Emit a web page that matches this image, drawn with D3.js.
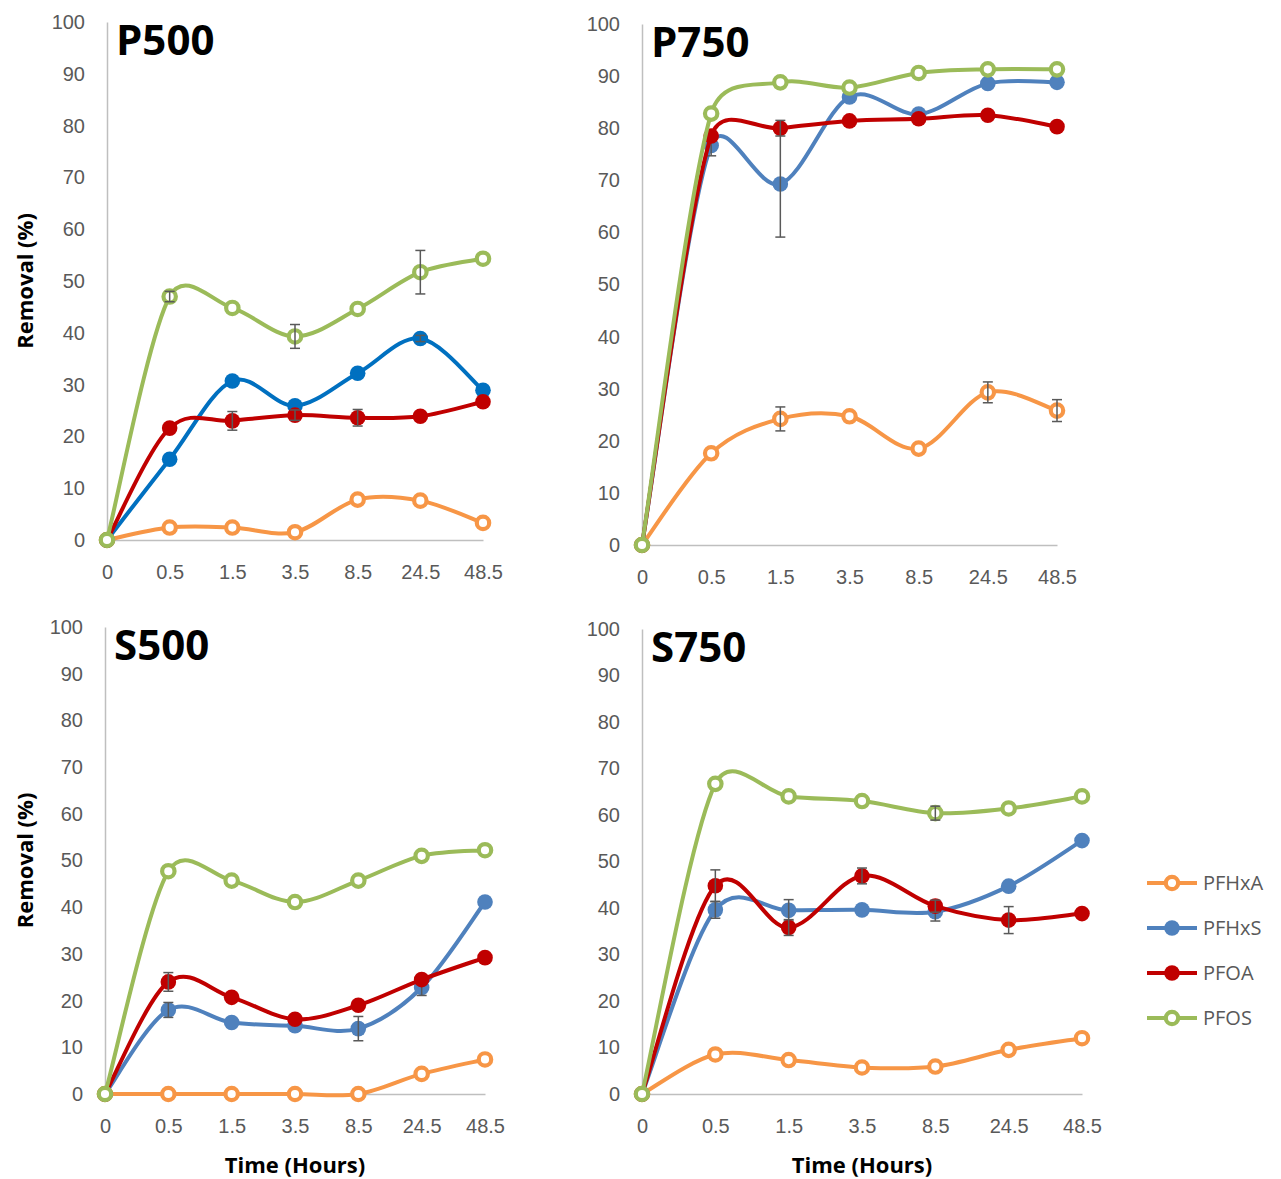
<!DOCTYPE html>
<html>
<head>
<meta charset="utf-8">
<script src="https://cdn.jsdelivr.net/npm/d3@7"></script>
<style>
  body { margin: 0; background: #fff; }
  svg { display: block; font-family: "Open Sans", sans-serif; }
</style>
</head>
<body>
<div id="chart"></div>
<script>
// time points (hours) and compounds
const times = ["0", "0.5", "1.5", "3.5", "8.5", "24.5", "48.5"];
const compounds = ["PFHxA", "PFHxS", "PFOA", "PFOS"];

// removal (%) per panel and compound
const p500PFHxA = [0, 2.4, 2.4, 1.5, 7.8, 7.6, 3.3];
const p500PFHxS = [0, 15.6, 30.7, 25.9, 32.2, 38.9, 28.9];
const p500PFOA  = [0, 21.6, 23.0, 24.1, 23.6, 23.9, 26.7];
const p500PFOS  = [0, 47.0, 44.8, 39.3, 44.6, 51.7, 54.3];

const p750PFHxA = [0, 17.6, 24.2, 24.7, 18.5, 29.3, 25.8];
const p750PFHxS = [0, 76.7, 69.3, 86.0, 82.7, 88.6, 88.8];
const p750PFOA  = [0, 78.5, 80.0, 81.4, 81.8, 82.5, 80.3];
const p750PFOS  = [0, 82.8, 88.8, 87.8, 90.6, 91.3, 91.3];

const s500PFHxA = [0, 0, 0, 0, 0, 4.3, 7.4];
const s500PFHxS = [0, 18.0, 15.3, 14.6, 14.0, 22.8, 41.1];
const s500PFOA  = [0, 24.0, 20.7, 16.0, 19.0, 24.5, 29.2];
const s500PFOS  = [0, 47.7, 45.7, 41.1, 45.7, 51.0, 52.2];

const s750PFHxA = [0, 8.5, 7.3, 5.7, 5.9, 9.5, 12.0];
const s750PFHxS = [0, 39.6, 39.5, 39.6, 39.2, 44.7, 54.5];
const s750PFOA  = [0, 44.8, 35.8, 46.9, 40.4, 37.4, 38.8];
const s750PFOS  = [0, 66.7, 64.0, 63.0, 60.4, 61.4, 64.0];

// standard deviations (error bars)
const p500PFHxAErr = [0, 0, 0, 0, 0, 0, 0];
const p500PFHxSErr = [0, 0, 0, 0, 0, 0.6, 0];
const p500PFOAErr  = [0, 0, 1.8, 1.0, 1.6, 0, 0];
const p500PFOSErr  = [0, 1.0, 0, 2.3, 0, 4.2, 0];

const p750PFHxAErr = [0, 0, 2.3, 0, 0, 2.0, 2.1];
const p750PFHxSErr = [0, 2.0, 10.2, 0, 0, 0, 0];
const p750PFOAErr  = [0, 0, 1.5, 0, 0, 0, 0];
const p750PFOSErr  = [0, 0, 0, 0, 0, 0, 0];

const s500PFHxAErr = [0, 0, 0, 0, 0, 0, 0];
const s500PFHxSErr = [0, 1.6, 0, 0, 2.6, 1.7, 0];
const s500PFOAErr  = [0, 2.0, 0, 0, 0, 0, 0];
const s500PFOSErr  = [0, 0, 0, 0, 0, 0, 0];

const s750PFHxAErr = [0, 0, 0, 0, 0, 0, 0];
const s750PFHxSErr = [0, 1.8, 2.3, 0, 2.0, 0, 0];
const s750PFOAErr  = [0, 3.4, 1.7, 1.7, 1.3, 2.9, 0];
const s750PFOSErr  = [0, 0, 0, 0, 1.5, 0, 0];

const yTicks = [0, 10, 20, 30, 40, 50, 60, 70, 80, 90, 100];

const colors = { PFHxA: "#F79646", PFHxS: "#4F81BD", PFOA: "#C00000", PFOS: "#9BBB59" };
const hollow = { PFHxA: true, PFHxS: false, PFOA: false, PFOS: true };

const panels = [
  { title: "P500", left: 107, right: 483, top: 22, bottom: 540, blue: "#0070C0", yTitle: true, xTitle: false,
    values: [p500PFHxA, p500PFHxS, p500PFOA, p500PFOS], errs: [p500PFHxAErr, p500PFHxSErr, p500PFOAErr, p500PFOSErr] },
  { title: "P750", left: 642, right: 1057, top: 24, bottom: 545, blue: colors.PFHxS, yTitle: false, xTitle: false,
    values: [p750PFHxA, p750PFHxS, p750PFOA, p750PFOS], errs: [p750PFHxAErr, p750PFHxSErr, p750PFOAErr, p750PFOSErr] },
  { title: "S500", left: 105, right: 485, top: 627, bottom: 1094, blue: colors.PFHxS, yTitle: true, xTitle: true,
    values: [s500PFHxA, s500PFHxS, s500PFOA, s500PFOS], errs: [s500PFHxAErr, s500PFHxSErr, s500PFOAErr, s500PFOSErr] },
  { title: "S750", left: 642, right: 1082, top: 629, bottom: 1094, blue: colors.PFHxS, yTitle: false, xTitle: true,
    values: [s750PFHxA, s750PFHxS, s750PFOA, s750PFOS], errs: [s750PFHxAErr, s750PFHxSErr, s750PFOAErr, s750PFOSErr] }
];

// spreadsheet-style smoothing: bezier segments whose control arms are
// limited to half the segment length, so the curve overshoots less
function curveSmooth(context) {
  let pts;
  const dist = (a, b) => Math.hypot(b[0] - a[0], b[1] - a[1]);
  return {
    areaStart() {}, areaEnd() {},
    lineStart() { pts = []; },
    point(x, y) { pts.push([+x, +y]); },
    lineEnd() {
      const n = pts.length;
      if (!n) return;
      context.moveTo(pts[0][0], pts[0][1]);
      for (let i = 0; i < n - 1; i++) {
        const p1 = pts[i], p2 = pts[i + 1];
        const p0 = i > 0 ? pts[i - 1] : p1;
        const p3 = i + 2 < n ? pts[i + 2] : p2;
        const d02 = dist(p0, p2), d12 = dist(p1, p2), d13 = dist(p1, p3);
        let f0 = 1 / 6, f1 = 1 / 6;
        if (d02 / 6 >= d12 / 2 && d02 > 0) f0 = d12 / d02 / 2;
        if (d13 / 6 >= d12 / 2 && d13 > 0) f1 = d12 / d13 / 2;
        context.bezierCurveTo(
          p1[0] + (p2[0] - p0[0]) * f0, p1[1] + (p2[1] - p0[1]) * f0,
          p2[0] - (p3[0] - p1[0]) * f1, p2[1] - (p3[1] - p1[1]) * f1,
          p2[0], p2[1]);
      }
    }
  };
}

const svg = d3.select("#chart").append("svg")
  .attr("width", 1281)
  .attr("height", 1179);

const axisGray = "#BFBFBF";
const textGray = "#595959";

function marker(sel, c, col) {
  sel.attr("r", hollow[c] ? 6.2 : 7.8)
    .attr("fill", hollow[c] ? "#fff" : col)
    .attr("stroke", hollow[c] ? col : "none")
    .attr("stroke-width", 4.2);
}

panels.forEach(p => {
  const x = d3.scalePoint().domain(times).range([p.left, p.right]);
  const y = d3.scaleLinear().domain([0, 100]).range([p.bottom, p.top]);
  const g = svg.append("g");

  // axes
  const yAxis = g.append("g").attr("transform", "translate(" + p.left + ",0)")
    .call(d3.axisLeft(y).tickValues(yTicks).tickSize(0).tickPadding(22));
  yAxis.select(".domain").attr("stroke", axisGray).attr("stroke-width", 1.5);
  yAxis.selectAll("text").attr("fill", textGray).style("font-size", "20px");

  const xAxis = g.append("g").attr("transform", "translate(0," + p.bottom + ")")
    .call(d3.axisBottom(x).tickSize(0).tickPadding(25));
  xAxis.select(".domain").attr("stroke", axisGray).attr("stroke-width", 1.5);
  xAxis.selectAll("text").attr("fill", textGray).style("font-size", "20px");

  // panel title
  g.append("text")
    .attr("x", p.left + 9)
    .attr("y", p.top + 33)
    .attr("font-size", 42)
    .attr("font-weight", "bold")
    .attr("fill", "#000")
    .text(p.title);

  if (p.yTitle) {
    g.append("text")
      .attr("transform", "translate(33," + (p.top + p.bottom) / 2 + ") rotate(-90)")
      .attr("text-anchor", "middle")
      .attr("font-size", 22)
      .attr("font-weight", "bold")
      .attr("fill", "#000")
      .text("Removal (%)");
  }
  if (p.xTitle) {
    g.append("text")
      .attr("x", (p.left + p.right) / 2)
      .attr("y", 1173)
      .attr("text-anchor", "middle")
      .attr("font-size", 22)
      .attr("font-weight", "bold")
      .attr("fill", "#000")
      .text("Time (Hours)");
  }

  const line = d3.line()
    .x((d, i) => x(times[i]))
    .y(d => y(d))
    .curve(curveSmooth);

  compounds.forEach((c, k) => {
    const col = c === "PFHxS" ? p.blue : colors[c];
    const vals = p.values[k];
    const errs = p.errs[k];

    g.append("path")
      .datum(vals)
      .attr("fill", "none")
      .attr("stroke", col)
      .attr("stroke-width", 4)
      .attr("d", line);

    g.selectAll(".m" + k)
      .data(vals)
      .enter().append("circle")
      .attr("cx", (d, i) => x(times[i]))
      .attr("cy", d => y(d))
      .call(marker, c, col);

    const eb = g.selectAll(".e" + k)
      .data(vals.map((v, i) => ({ v: v, e: errs[i], t: times[i] })).filter(d => d.e > 0))
      .enter().append("g")
      .attr("stroke", "#595959")
      .attr("stroke-width", 1.5);
    eb.append("line")
      .attr("x1", d => x(d.t)).attr("x2", d => x(d.t))
      .attr("y1", d => y(d.v - d.e)).attr("y2", d => y(d.v + d.e));
    eb.append("line")
      .attr("x1", d => x(d.t) - 5).attr("x2", d => x(d.t) + 5)
      .attr("y1", d => y(d.v - d.e)).attr("y2", d => y(d.v - d.e));
    eb.append("line")
      .attr("x1", d => x(d.t) - 5).attr("x2", d => x(d.t) + 5)
      .attr("y1", d => y(d.v + d.e)).attr("y2", d => y(d.v + d.e));
  });
});

// legend
const legend = svg.append("g").attr("transform", "translate(1147,883)");
compounds.forEach((c, k) => {
  const row = legend.append("g").attr("transform", "translate(0," + k * 45 + ")");
  row.append("line")
    .attr("x1", 0).attr("x2", 50)
    .attr("stroke", colors[c]).attr("stroke-width", 4);
  row.append("circle")
    .attr("cx", 25).attr("cy", 0)
    .call(marker, c, colors[c]);
  row.append("text")
    .attr("x", 56).attr("y", 0)
    .attr("dy", "0.35em")
    .attr("font-size", 20)
    .attr("fill", textGray)
    .text(c);
});
</script>
</body>
</html>
